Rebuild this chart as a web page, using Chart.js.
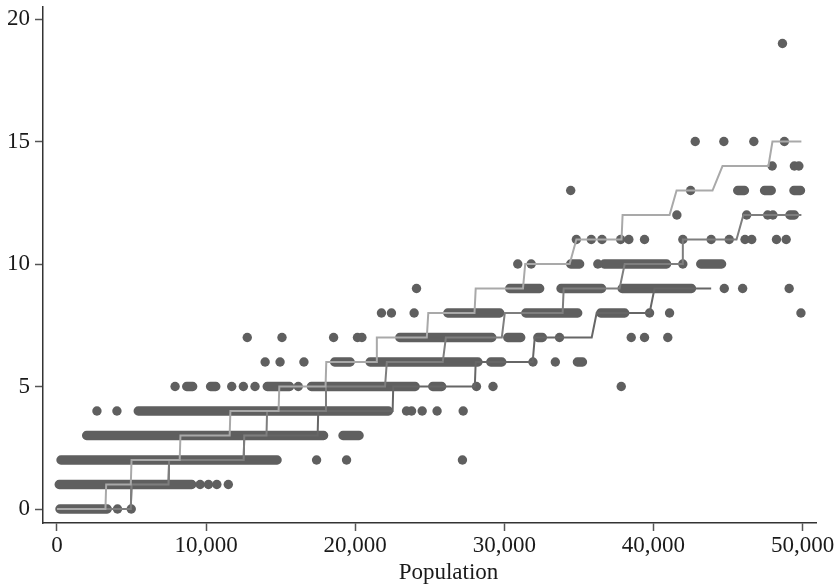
<!DOCTYPE html>
<html>
<head>
<meta charset="utf-8">
<script src="https://cdn.jsdelivr.net/npm/chart.js@4.4.1/dist/chart.umd.min.js"></script>
<style>
  html, body { margin: 0; padding: 0; background: #fff; }
  #wrap { width: 840px; height: 586px; }
</style>
</head>
<body>
<div id="wrap"><canvas id="chart" width="840" height="586"></canvas></div>
<script>
// --- data (x = population, y = count) ---
const xTicks = [0, 10000, 20000, 30000, 40000, 50000];
const yTicks = [0, 5, 10, 15, 20];
const xTitle = 'Population';

// three step lines (light / medium / dark)
const upperX = [0, 3250, 3300, 4950, 5000, 8230, 8280, 11580, 11630, 14860, 14910, 18010, 18060, 21400, 21450, 24800, 24900, 28000, 28080, 31250, 31400, 34380, 34830, 37860, 37930, 41080, 41550, 43960, 44630, 47710, 47980, 49920];
const upperY = [0, 0, 1, 1, 2, 2, 3, 3, 4, 4, 5, 5, 6, 6, 7, 7, 8, 8, 9, 9, 10, 10, 11, 11, 12, 12, 13, 13, 14, 14, 15, 15];

const middleX = [0, 4950, 5000, 7480, 7520, 12520, 12560, 14050, 14090, 18000, 18040, 22000, 22120, 25870, 26080, 29830, 30030, 33910, 33980, 37730, 38070, 41930, 41970, 45570, 46030, 49920];
const middleY = [0, 0, 1, 1, 2, 2, 3, 3, 4, 4, 5, 5, 6, 6, 7, 7, 8, 8, 9, 9, 10, 10, 11, 11, 12, 12];

const lowerX = [0, 4950, 5000, 7480, 7520, 12520, 12560, 17480, 17520, 22510, 22550, 28020, 28080, 31900, 32040, 35860, 36190, 39740, 40070, 43870];
const lowerY = [0, 0, 1, 1, 2, 2, 3, 3, 4, 4, 5, 5, 6, 6, 7, 7, 8, 8, 9, 9];

// stretches where the dots overlap into a solid band: [count, from, to]
const runs = [
  [0, 200, 3370],
  [1, 150, 9040],
  [2, 270, 14760],
  [3, 1990, 17880], [3, 19180, 20260],
  [4, 5450, 22230],
  [5, 8700, 9100], [5, 10300, 10650], [5, 14100, 15600], [5, 17060, 24020], [5, 25200, 25800],
  [6, 18620, 19660], [6, 21000, 28230], [6, 29090, 29830], [6, 34900, 35240],
  [7, 22990, 29160], [7, 30230, 31100], [7, 32250, 32550],
  [8, 26210, 29690], [8, 31440, 34920], [8, 36460, 38070],
  [9, 30360, 32370], [9, 33800, 36520], [9, 37900, 42550],
  [10, 34450, 35050], [10, 36700, 40880], [10, 43170, 44570],
  [12, 49150, 49450],
  [13, 45650, 46100], [13, 47450, 47900], [13, 49420, 49860]
];

// single dots: [count, populations]
const dotRows = [
  [0, [4060, 4980]],
  [1, [9600, 10160, 10720, 11490]],
  [2, [17410, 19420, 27190]],
  [4, [2680, 4020, 23440, 23780, 24490, 25490, 27240]],
  [5, [7920, 11720, 12500, 13280, 16180, 28130, 29240, 37840]],
  [6, [13960, 14960, 16560, 31920, 33420]],
  [7, [12760, 15090, 18550, 20150, 20450, 33700, 38510, 39400, 40960]],
  [8, [21760, 22430, 23950, 39740, 41080, 49890]],
  [9, [24110, 44750, 45980, 49100]],
  [10, [30900, 31800, 36270, 41970]],
  [11, [34830, 35830, 36550, 37800, 38350, 39400, 41970, 43870, 45080, 46140, 46590, 48250, 48900]],
  [12, [41570, 46250, 47660, 48010]],
  [13, [34450, 42490]],
  [14, [47960, 49450, 49750]],
  [15, [42800, 44720, 46730, 48780]],
  [19, [48650]]
];

const dotColor = '#5f5f5f';
const serif = "'Liberation Serif', 'Times New Roman', serif";

const zip = (xs, ys) => xs.map((x, i) => ({ x: x, y: ys[i] }));

const runPoints = [];
runs.forEach(r => {
  runPoints.push({ x: r[1], y: r[0] }, { x: r[2], y: r[0] }, { x: null, y: null });
});

const dotPoints = [];
dotRows.forEach(row => row[1].forEach(p => dotPoints.push({ x: p, y: row[0] })));

const stepLine = (pts, color, order) => ({
  data: pts, showLine: true, borderColor: color, borderWidth: 2,
  pointRadius: 0, tension: 0, fill: false, order: order
});

// axis title sits a little right of the plot centre, as in the original
const axisTitle = {
  id: 'axisTitle',
  afterDraw(chart) {
    const ctx = chart.ctx;
    const area = chart.chartArea;
    ctx.save();
    ctx.font = '23px ' + serif;
    ctx.fillStyle = '#1a1a1a';
    ctx.textAlign = 'center';
    ctx.textBaseline = 'alphabetic';
    ctx.fillText(xTitle, (area.left + area.right) / 2 + 19, 579);
    ctx.restore();
  }
};

Chart.defaults.font.family = serif;

new Chart(document.getElementById('chart'), {
  type: 'scatter',
  data: {
    datasets: [
      stepLine(zip(upperX, upperY), '#a9a9a9', 1),
      stepLine(zip(middleX, middleY), '#7e7e7e', 2),
      stepLine(zip(lowerX, lowerY), '#666666', 3),
      {
        data: dotPoints, backgroundColor: dotColor, borderColor: dotColor,
        borderWidth: 0, pointRadius: 4.7, order: 5
      },
      {
        data: runPoints, showLine: true, spanGaps: false, borderColor: dotColor,
        borderWidth: 9.4, borderCapStyle: 'round', pointRadius: 0, order: 6
      }
    ]
  },
  plugins: [axisTitle],
  options: {
    responsive: false,
    animation: false,
    events: [],
    layout: { padding: { top: 7, right: 24, left: 0, bottom: 0 } },
    plugins: { legend: { display: false }, tooltip: { enabled: false } },
    scales: {
      x: {
        type: 'linear', min: -937, max: 50900,
        afterBuildTicks: s => { s.ticks = xTicks.map(v => ({ value: v })); },
        afterFit: s => { s.height = 63; s.paddingLeft = 0; s.paddingRight = 0; },
        border: { display: true, color: '#333', width: 1.5 },
        grid: { drawOnChartArea: false, drawTicks: true, tickLength: 8, tickColor: '#555', tickWidth: 1.5 },
        ticks: {
          color: '#1a1a1a', padding: 1, maxRotation: 0, autoSkip: false,
          font: { size: 23, family: serif },
          callback: v => v.toLocaleString('en-US')
        }
      },
      y: {
        type: 'linear', min: -0.57, max: 20.49,
        afterBuildTicks: s => { s.ticks = yTicks.map(v => ({ value: v })); },
        afterFit: s => { s.width = 43; s.paddingTop = 0; s.paddingBottom = 0; },
        border: { display: true, color: '#333', width: 1.5 },
        grid: { drawOnChartArea: false, drawTicks: true, tickLength: 8, tickColor: '#555', tickWidth: 1.5 },
        ticks: {
          color: '#1a1a1a', padding: 5, autoSkip: false,
          font: { size: 23, family: serif }
        }
      }
    }
  }
});
</script>
</body>
</html>
